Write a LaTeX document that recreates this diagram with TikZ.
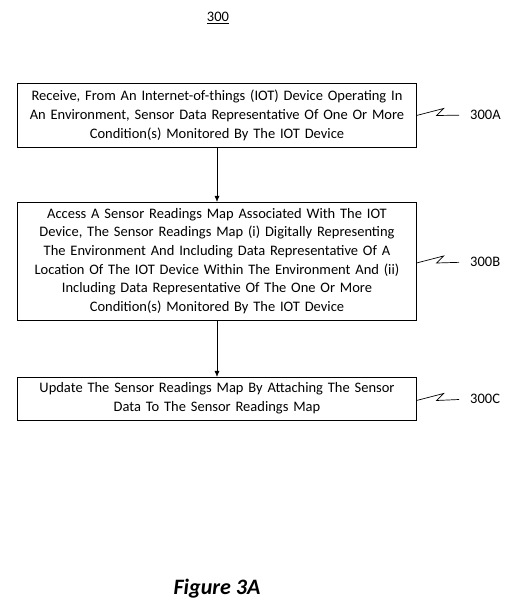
\documentclass[tikz,border=0pt]{standalone}
\usepackage{fontspec}
\setmainfont{Carlito}
\usepackage{tikz}
\usetikzlibrary{arrows.meta}

\begin{document}
\begin{tikzpicture}[x=1pt, y=-1pt, >={Latex[length=6pt,width=5pt]}]
        \useasboundingbox (0,0) rectangle (521,614);

        % title
        \node[font=\fontsize{14.5}{16}\selectfont] (title) at (218, 18) {\underline{300}};

        % steps 300A, 300B, 300C
        \node[draw, thin, minimum width=397pt, minimum height=64pt, text width=392pt,
            align=center, font=\fontsize{14.5}{19}\selectfont] (recv) at (217, 115.5)
            {Receive, From An Internet-of-things (IOT) Device Operating In\\
            An Environment, Sensor Data Representative Of One Or More\\
            Condition(s) Monitored By The IOT Device};
        \node[draw, thin, minimum width=397pt, minimum height=118pt, text width=392pt,
            align=center, font=\fontsize{14.5}{18.6}\selectfont] (access) at (217, 261)
            {Access A Sensor Readings Map Associated With The IOT\\
            Device, The Sensor Readings Map (i) Digitally Representing\\
            The Environment And Including Data Representative Of A\\
            Location Of The IOT Device Within The Environment And (ii)\\
            Including Data Representative Of The One Or More\\
            Condition(s) Monitored By The IOT Device};
        \node[draw, thin, minimum width=397pt, minimum height=43pt, text width=392pt,
            align=center, font=\fontsize{14.5}{19}\selectfont] (update) at (217, 398.5)
            {Update The Sensor Readings Map By Attaching The Sensor\\
            Data To The Sensor Readings Map};

        % reference labels
        \node[anchor=west, inner sep=0pt, font=\fontsize{14.5}{16}\selectfont] (lblA) at (470, 115) {300A};
        \node[anchor=west, inner sep=0pt, font=\fontsize{14.5}{16}\selectfont] (lblB) at (470, 262) {300B};
        \node[anchor=west, inner sep=0pt, font=\fontsize{14.5}{16}\selectfont] (lblC) at (470, 399) {300C};

        % leaders
        \draw[line width=0.7pt, shorten >=11pt] (recv.east) -- ++(27, -7) -- ++(-7, 7) -- (lblA.west);
        \draw[line width=0.7pt, shorten >=11pt] (access.east) ++(0, 2) -- ++(27, -7) -- ++(-7, 7) -- (lblB.west);
        \draw[line width=0.7pt, shorten >=11pt] (update.east) ++(0, 2) -- ++(27, -7) -- ++(-7, 7) -- (lblC.west);

        % flow
        \draw[->] (recv) -- (access);
        \draw[->] (access) -- (update);

        % caption
        \node[font=\fontsize{22}{24}\selectfont\bfseries\itshape] (caption) at (217, 589) {Figure 3A};
    \end{tikzpicture}
\end{document}
